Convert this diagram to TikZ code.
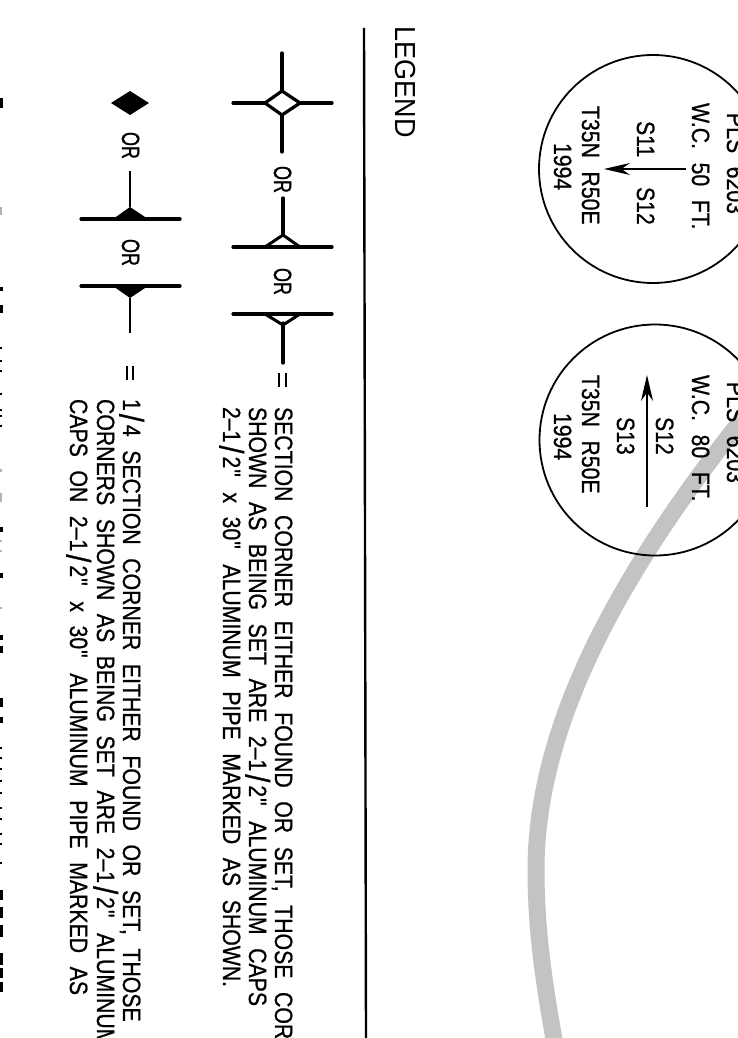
\documentclass[tikz,border=0pt]{standalone}
\usepackage{fontspec}
\setmainfont{Liberation Sans}
\newfontfamily\bodyfont[FakeStretch=0.85,WordSpace=2.3,FakeBold=0.8]{Liberation Sans}
\newfontfamily\orfont[FakeStretch=0.72,FakeBold=0.8]{Liberation Sans}
\newfontfamily\headfont[FakeStretch=0.93]{Liberation Sans}
\newcommand{\bigslash}{\kern3pt\raisebox{-3.5pt}{\fontsize{34}{34}\selectfont/}\kern3pt}
\newcommand{\dq}{\kern1pt"\kern2pt}
\usetikzlibrary{arrows.meta}
\tikzset{
 txt/.style={rotate=-90,anchor=base west,inner sep=0pt,outer sep=0pt,font=\bodyfont\fontsize{25}{25}\selectfont},
 ortxt/.style={txt,font=\orfont\fontsize{25}{25}\selectfont},
 legendtxt/.style={txt,font=\headfont\fontsize{29}{29}\selectfont},
 circ/.style={draw=black,line width=1.8pt},
 pointer/.style={line width=1.6pt,-{Stealth[length=26pt,width=12pt]}},
 thickln/.style={line width=3.2pt,line cap=round},
 thinln/.style={line width=1.6pt},
 rule/.style={line width=2.4pt},
 arcgray/.style={draw=gray!47,line width=17pt},
}
\begin{document}
\begin{tikzpicture}[x=1pt,y=-1pt]
\useasboundingbox (0,0) rectangle (738,1038);
\clip (0,0) rectangle (738,1038);
\draw[arcgray] (770,385) .. controls (625,560) and (536,720) .. (536,870) .. controls (536,930) and (544,985) .. (556,1050);
\node[circ,circle,minimum size=228pt,inner sep=0pt] (c1) at (653,169) {};
\node[circ,circle,minimum size=231pt,inner sep=0pt] (c2) at (655,440) {};
% circle 1
\node[txt] (a1) at (727,113) {PLS 6203};
\node[txt] (a2) at (692,103) {W.C. 50 FT.};
\node[txt] (a3) at (637,121) {S11};
\node[txt] (a4) at (637,187) {S12};
\node[txt] (a5) at (582,106) {T35N R50E};
\node[txt] (a6) at (554,143) {1994};
\coordinate (a7) at (686,169); \coordinate (a8) at (604,169);
\draw[pointer] (a7) -- (a8);
% circle 2
\node[txt] (b1) at (727,382) {PLS 6203};
\node[txt] (b2) at (692,375) {W.C. 80 FT.};
\node[txt] (b3) at (656,417) {S12};
\node[txt] (b4) at (617,417) {S13};
\node[txt] (b5) at (582,375) {T35N R50E};
\node[txt] (b6) at (554,413) {1994};
\coordinate (b7) at (647,507); \coordinate (b8) at (647,375);
\draw[pointer] (b7) -- (b8);
% legend
\node[legendtxt] (l) at (395,27) {LEGEND};
\coordinate (r1) at (364,28); \coordinate (r2) at (366,1038);
\draw[rule] (r1) -- (r2);
% symbols row 1
\draw[thickln] (233,103) -- (265,103) (300,103) -- (332,103) (282,53) -- (282,91) (282,115) -- (282,152);
\draw[thickln] (282,91) -- (300,103) -- (282,115) -- (265,103) -- cycle;
\node[ortxt] at (274,166) {OR};
\draw[thickln] (233,247) -- (332,247) (283,198) -- (283,235);
\draw[line width=3pt,line join=round] (265,247) -- (283,235) -- (300,247);
\node[ortxt] at (274,268) {OR};
\draw[thickln] (233,314) -- (332,314) (283,323) -- (283,363);
\draw[line width=3pt,line join=round] (265,314) -- (283,325) -- (300,314);
\draw[line width=2.4pt] (279,373) -- (279,387) (286,373) -- (286,387);
\node[txt] at (275,407) {SECTION CORNER EITHER FOUND OR SET, THOSE CORNERS};
\node[txt] at (249,407) {SHOWN AS BEING SET ARE 2–1\bigslash2\dq{} ALUMINUM CAPS};
\node[txt] at (223,407) {2–1\bigslash2\dq{} x 30\dq{} ALUMINUM PIPE MARKED AS SHOWN.};
% symbols row 2
\fill (130,91) -- (149,103) -- (130,115) -- (111,103) -- cycle;
\node[ortxt] at (122,132) {OR};
\draw[thickln] (81,219) -- (180,219);
\draw[thinln] (130,171) -- (130,207);
\fill (113,219) -- (130,207) -- (148,219) -- cycle;
\node[ortxt] at (122,239) {OR};
\draw[thickln] (81,286) -- (180,286);
\fill (113,286) -- (130,298) -- (148,286) -- cycle;
\draw[thinln] (130,298) -- (130,333);
\draw[line width=1.8pt] (127,366) -- (127,380) (133,366) -- (133,380);
\node[txt] at (123,399) {1\bigslash4 SECTION CORNER EITHER FOUND OR SET, THOSE};
\node[txt] at (97,399) {CORNERS SHOWN AS BEING SET ARE 2–1\bigslash2\dq{} ALUMINUM};
\node[txt] at (70,399) {CAPS ON 2–1\bigslash2\dq{} x 30\dq{} ALUMINUM PIPE MARKED AS};
% tops of a further row, cut off by the left edge
\foreach \a/\b in {98/108,287/291,305/313,527/532,573/578,635/640,646/653,698/707,717/723,890/900,907/918,925/937,953/965,968/978,982/992}
  \fill (0,\a) rectangle (2.5,\b);
\foreach \a in {347,360,370,393,409,415,425,747,757,768,780,792,807,818,833,843,862}
  \fill (0,\a) rectangle (1.5,\a+2);
\foreach \a/\b in {207/215,469/472,493/502,540/542,550/552,607/609}
  \fill[gray!60] (0,\a) rectangle (1.5,\b);
\end{tikzpicture}
\end{document}
